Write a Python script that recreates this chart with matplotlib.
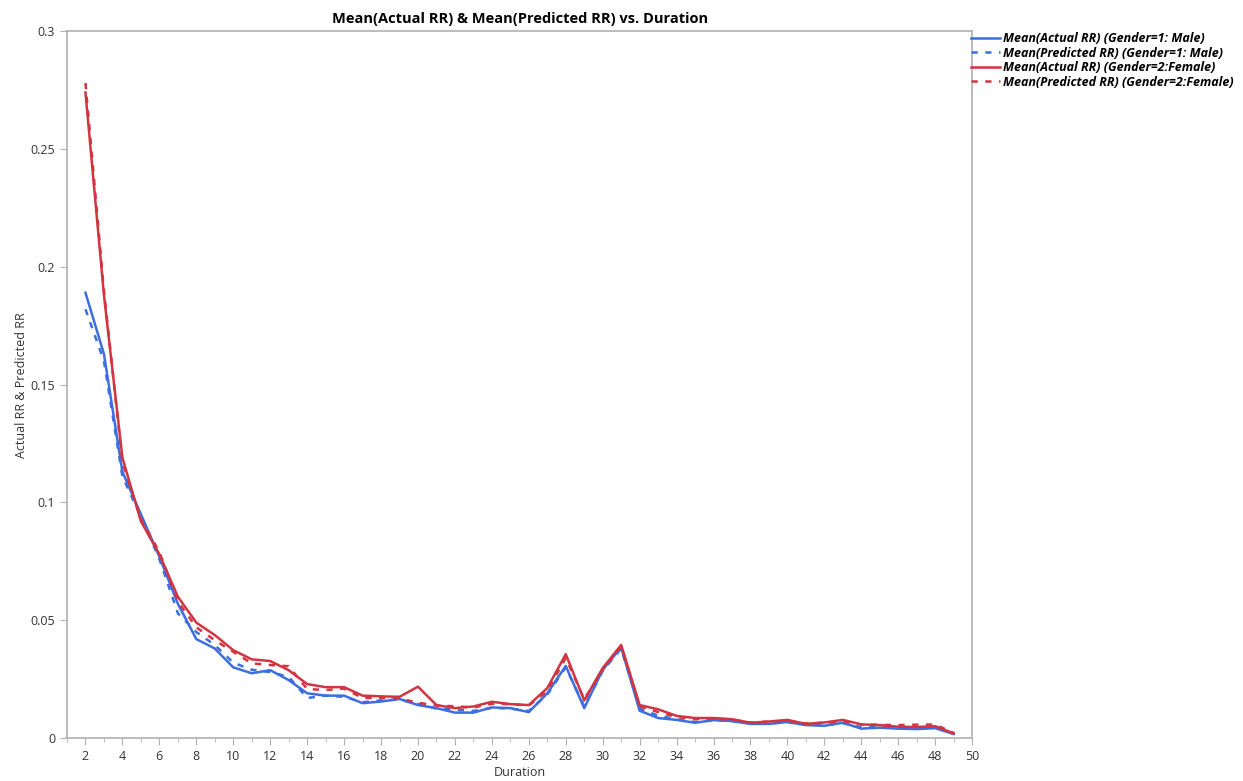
import numpy as np
import matplotlib
matplotlib.use("Agg")
import matplotlib.pyplot as plt

plt.rcParams['font.family'] = ['Open Sans', 'DejaVu Sans']

duration = list(range(2, 50))

male_actual = [0.189, 0.163, 0.113, 0.095, 0.077, 0.057, 0.042, 0.038, 0.030, 0.0275,
               0.0288, 0.0246, 0.019, 0.018, 0.018, 0.0148, 0.0155, 0.0166, 0.014, 0.0127,
               0.0108, 0.0108, 0.013, 0.0127, 0.011, 0.019, 0.0306, 0.0127, 0.029, 0.0385,
               0.0116, 0.0085, 0.0077, 0.0065, 0.0076, 0.0072, 0.006, 0.006, 0.0068, 0.0055,
               0.0052, 0.0065, 0.004, 0.0044, 0.004, 0.0038, 0.0042, 0.0017]
male_pred = [0.182, 0.160, 0.111, 0.094, 0.076, 0.053, 0.045, 0.0395, 0.032, 0.029,
             0.028, 0.026, 0.017, 0.018, 0.0175, 0.0152, 0.016, 0.0163, 0.0145, 0.0125,
             0.012, 0.0115, 0.0128, 0.0125, 0.0115, 0.0185, 0.030, 0.0135, 0.0285, 0.038,
             0.0125, 0.0095, 0.008, 0.0068, 0.0076, 0.0072, 0.0062, 0.0062, 0.0068, 0.0056,
             0.0055, 0.0063, 0.0045, 0.0046, 0.0042, 0.0042, 0.0045, 0.0018]
female_actual = [0.274, 0.188, 0.119, 0.092, 0.078, 0.060, 0.049, 0.0437, 0.0373, 0.0334,
                 0.0327, 0.0288, 0.0229, 0.0216, 0.0216, 0.018, 0.0177, 0.0175, 0.0218, 0.014,
                 0.0127, 0.0134, 0.0154, 0.0144, 0.014, 0.0212, 0.0356, 0.016, 0.0297, 0.0395,
                 0.014, 0.0122, 0.0094, 0.0085, 0.0085, 0.008, 0.0065, 0.007, 0.0077, 0.006,
                 0.0066, 0.0077, 0.0058, 0.0055, 0.0048, 0.0047, 0.005, 0.002]
female_pred = [0.278, 0.190, 0.117, 0.093, 0.079, 0.058, 0.047, 0.0415, 0.0366, 0.0317,
               0.031, 0.0305, 0.0208, 0.0204, 0.021, 0.017, 0.017, 0.0168, 0.015, 0.0138,
               0.0135, 0.013, 0.0145, 0.0144, 0.0138, 0.020, 0.034, 0.0165, 0.029, 0.039,
               0.0135, 0.011, 0.009, 0.008, 0.0082, 0.0078, 0.0066, 0.007, 0.0074, 0.0062,
               0.0065, 0.0072, 0.0057, 0.0056, 0.0055, 0.0057, 0.0057, 0.0022]

blue = '#3c6ee0'
red = '#d23441'
grey = '#b0b0b0'

fig = plt.figure(figsize=(12.43, 7.81), dpi=100)
ax = fig.add_axes([0.0539, 0.055, 0.7282, 0.905])

ax.plot(duration, male_actual, color=blue, lw=1.8,
        label='Mean(Actual RR) (Gender=1: Male)')
ax.plot(duration, male_pred, color=blue, lw=1.8, ls=(0, (2.5, 3)),
        label='Mean(Predicted RR) (Gender=1: Male)')
ax.plot(duration, female_actual, color=red, lw=1.8,
        label='Mean(Actual RR) (Gender=2:Female)')
ax.plot(duration, female_pred, color=red, lw=1.8, ls=(0, (2.5, 3)),
        label='Mean(Predicted RR) (Gender=2:Female)')

ax.set_xlim(1, 50)
ax.set_ylim(0, 0.3)
ax.set_xticks(range(2, 51, 2))
ax.set_xticks(range(1, 50, 2), minor=True)
ax.set_yticks([0, 0.05, 0.1, 0.15, 0.2, 0.25, 0.3])
ax.set_yticklabels(['0', '0.05', '0.1', '0.15', '0.2', '0.25', '0.3'])

for s in ax.spines.values():
    s.set_color(grey)
    s.set_linewidth(1.2)
ax.tick_params(which='both', direction='out', color=grey, labelsize=9,
               labelcolor='#333333')
ax.tick_params(which='major', length=5)
ax.tick_params(which='minor', length=3)

ax.set_xlabel('Duration', fontsize=9, color='#333333', labelpad=2)
ax.set_ylabel('Actual RR & Predicted RR', fontsize=9, color='#333333', labelpad=2)
ax.set_title('Mean(Actual RR) & Mean(Predicted RR) vs. Duration',
             fontsize=10.5, fontweight='bold', pad=6)

leg = fig.legend(loc='upper left', bbox_to_anchor=(0.772, 0.973), frameon=False,
                 handlelength=2.3, handletextpad=0.25, labelspacing=0.12,
                 prop={'size': 9.0, 'style': 'italic', 'weight': 'bold'})

fig.savefig('out.png', dpi=100)
